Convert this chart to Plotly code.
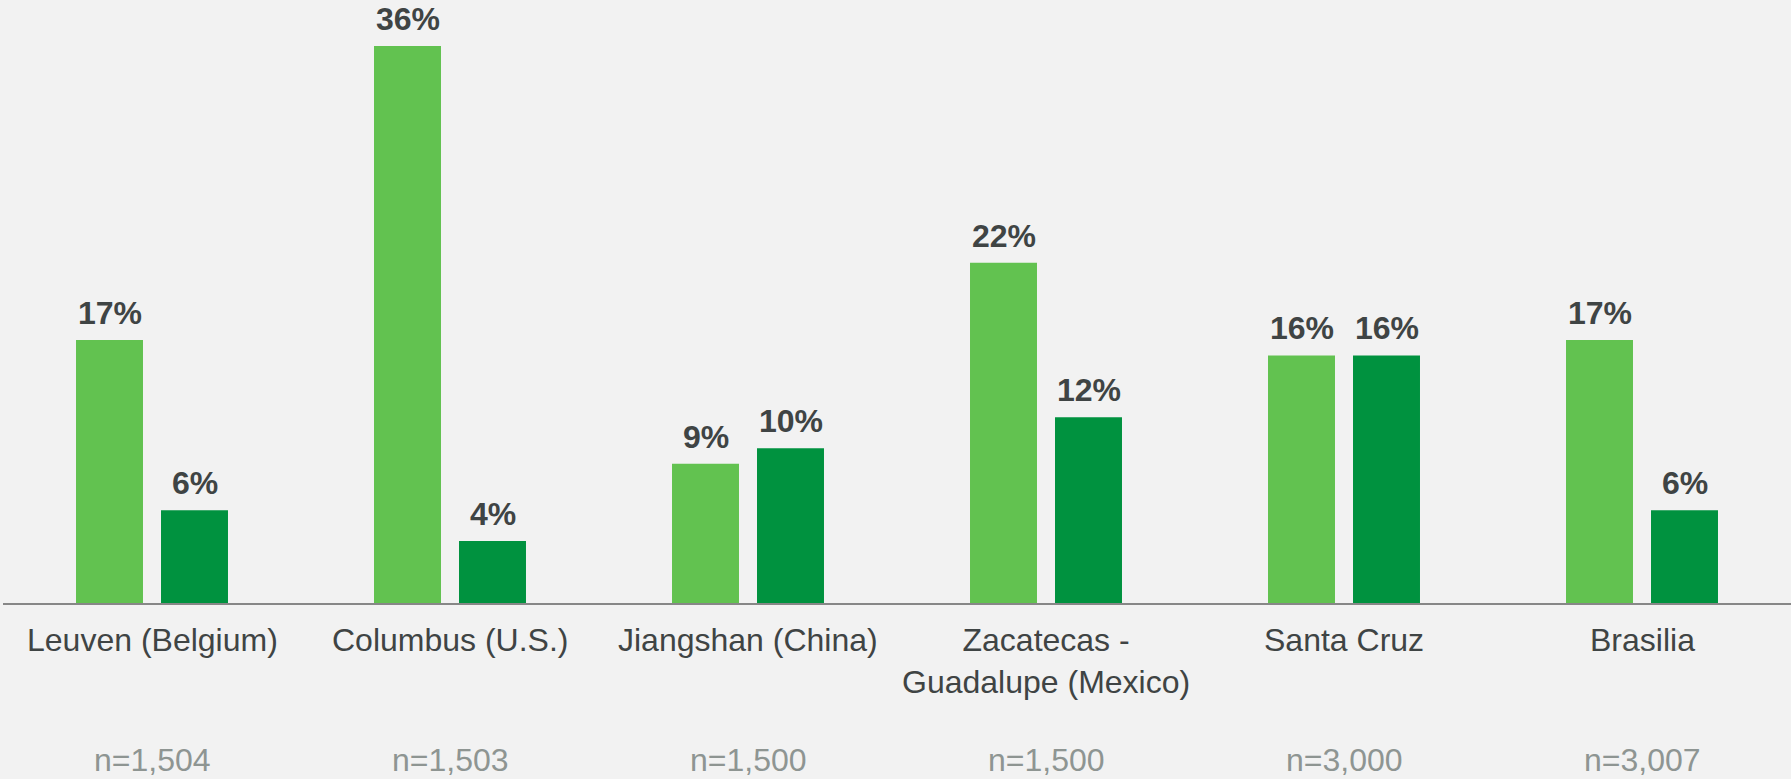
import plotly.graph_objects as go

categories = ["Leuven (Belgium)", "Columbus (U.S.)", "Jiangshan (China)",
              "Zacatecas -<br>Guadalupe (Mexico)", "Santa Cruz", "Brasilia"]
sample_sizes = ["n=1,504", "n=1,503", "n=1,500", "n=1,500", "n=3,000", "n=3,007"]
series_a = [17, 36, 9, 22, 16, 17]
series_b = [6, 4, 10, 12, 16, 6]

LIGHT = "#62C250"
DARK = "#00923F"
TEXT = "#3F4444"
GREY_TEXT = "#8E9592"
FONT = "Arial, Liberation Sans, sans-serif"

x_idx = list(range(len(categories)))

fig = go.Figure()
fig.add_trace(go.Bar(x=x_idx, y=series_a, marker_color=LIGHT, name="A",
                     marker_line_width=0, hoverinfo="skip"))
fig.add_trace(go.Bar(x=x_idx, y=series_b, marker_color=DARK, name="B",
                     marker_line_width=0, hoverinfo="skip"))

annotations = []
off = 42.5
for i, (a, b) in enumerate(zip(series_a, series_b)):
    for val, sh in ((a, -off), (b, off)):
        annotations.append(dict(
            x=i, y=val, xref="x", yref="y", text=f"<b>{val}%</b>",
            showarrow=False, xanchor="center", yanchor="bottom",
            xshift=sh, yshift=8, borderpad=0,
            font=dict(family=FONT, size=32, color=TEXT)))
    annotations.append(dict(
        x=i, y=0, xref="x", yref="y", text=categories[i], showarrow=False,
        xanchor="center", yanchor="top", yshift=-17,
        font=dict(family=FONT, size=32, color=TEXT)))
    annotations.append(dict(
        x=i, y=0, xref="x", yref="y", text=sample_sizes[i], showarrow=False,
        xanchor="center", yanchor="top", yshift=-137,
        font=dict(family=FONT, size=32, color=GREY_TEXT)))

fig.update_layout(
    width=1791, height=779,
    margin=dict(l=3, r=0, t=0, b=176),
    paper_bgcolor="#F2F2F2", plot_bgcolor="#F2F2F2",
    barmode="group", bargap=0.4295, bargroupgap=0.212,
    showlegend=False,
    annotations=annotations,
    xaxis=dict(range=[-0.5, 5.5], showticklabels=False, showgrid=False,
               zeroline=False, showline=True, linecolor="#878787",
               linewidth=2, ticks=""),
    yaxis=dict(range=[0, 38.98], visible=False, showgrid=False,
               zeroline=False),
)

fig.write_html(
    "out.html",
    config={"displayModeBar": False},
    post_script=("document.body.style.margin='0';"
                 "document.body.style.padding='0';"
                 "document.body.style.overflow='hidden';"
                 "document.body.style.background='#F2F2F2';"),
)
